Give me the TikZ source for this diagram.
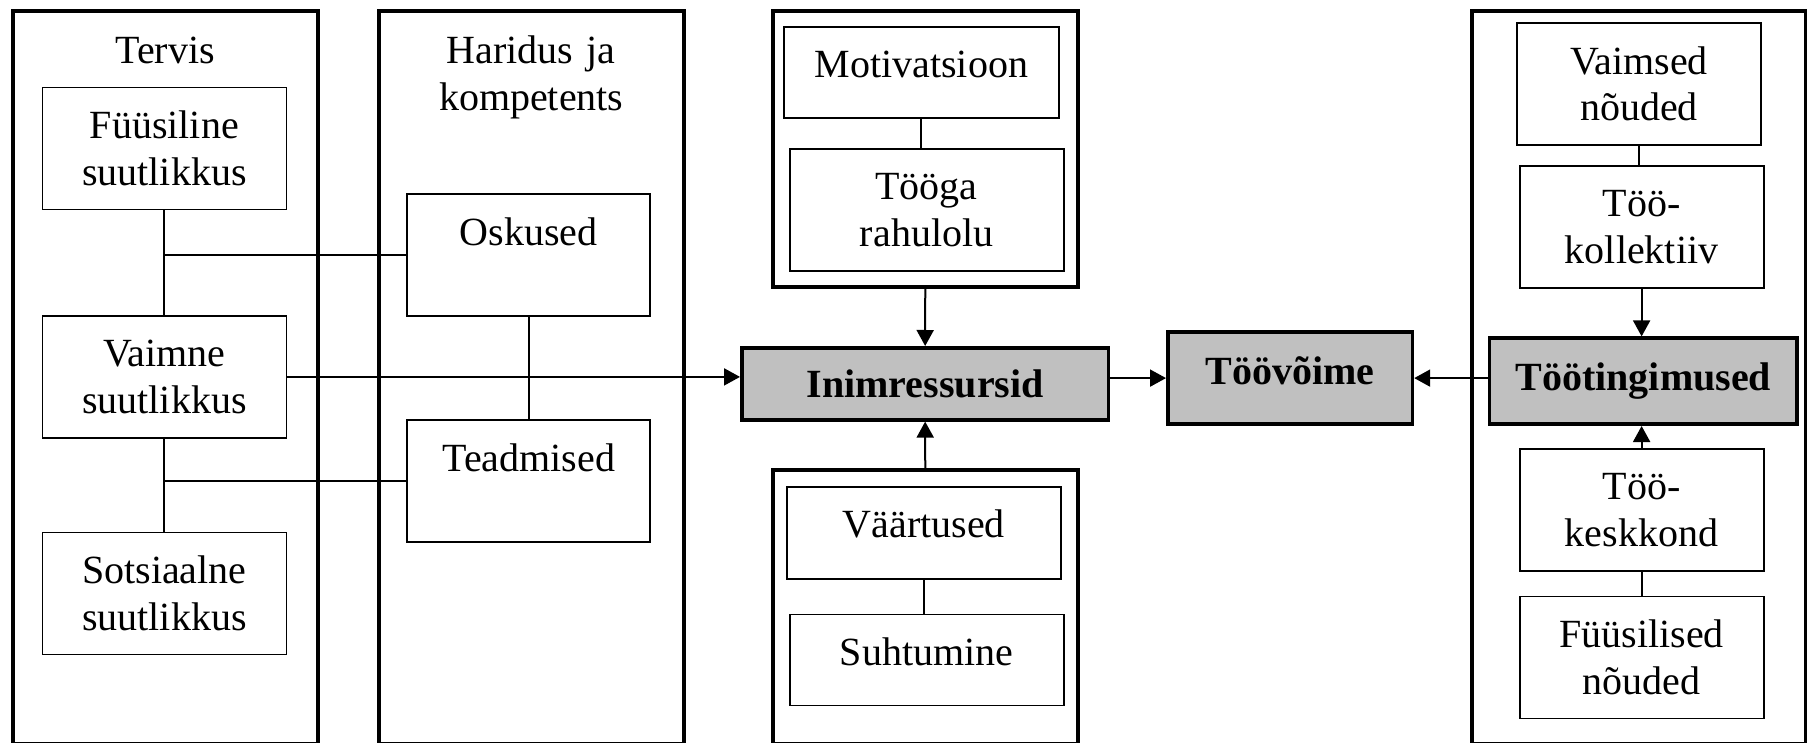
\documentclass[tikz,border=0pt]{standalone}
\usepackage{fontspec}
\setmainfont{Liberation Serif}
\usetikzlibrary{arrows.meta}
\definecolor{boxgray}{RGB}{192,192,192}
\begin{document}
\begin{tikzpicture}[x=0.5pt,y=-0.5pt,
  font=\fontsize{20}{23.4}\selectfont,
  frame/.style={draw, line width=1.75pt, anchor=north west, inner sep=0pt, align=center},
  cell/.style={draw, line width=0.9pt, anchor=north west, inner sep=0pt, align=center, text height=25.5pt},
  hub/.style={draw, line width=1.8pt, fill=boxgray, anchor=north west, inner sep=0pt, align=center, font=\fontsize{20}{23.4}\selectfont\bfseries, text height=26pt},
  link/.style={line width=1pt},
  arr/.style={line width=1pt, -{Triangle[length=8pt,width=8.5pt]}}]
            \useasboundingbox (0,0) rectangle (1807,743);

            \node[frame, text width=152.5pt, text height=26pt, text depth=340pt] (T) at (11,9.5) {Tervis};
            \node[frame, text width=152.5pt, text height=26pt, text depth=340pt] (H) at (377,9.5) {Haridus ja\\kompetents};
            \node[frame, minimum width=152.5pt, minimum height=137.75pt] (MG) at (771,9.5) {};
            \node[frame, minimum width=152.5pt, minimum height=136.75pt] (VG) at (771,468) {};
            \node[frame, minimum width=167pt, minimum height=366pt] (RG) at (1470,9.5) {};

            \node[cell, text width=122pt, text depth=35.5pt] (FS) at (41.5,86.7) {Füüsiline\\suutlikkus};
            \node[cell, text width=122pt, text depth=35.5pt] (VS) at (41.5,315) {Vaimne\\suutlikkus};
            \node[cell, text width=122pt, text depth=35.5pt] (SS) at (41.5,531.6) {Sotsiaalne\\suutlikkus};

            \node[cell, text width=121.5pt, text depth=35.5pt] (O) at (406.3,193.3) {Oskused};
            \node[cell, text width=121.5pt, text depth=35.5pt] (TE) at (406.3,419.4) {Teadmised};

            \node[cell, text width=137.2pt, text depth=20pt] (M) at (783.3,26) {Motivatsioon};
            \node[cell, text width=137pt, text depth=35.5pt] (TR) at (788.7,147.8) {Tööga\\rahulolu};
            \node[cell, text width=137pt, text depth=20.5pt] (V) at (786,486) {Väärtused};
            \node[cell, text width=137pt, text depth=20pt] (S) at (788.7,613.6) {Suhtumine};

            \node[cell, text width=122pt, text depth=35.5pt] (VN) at (1516,22.3) {Vaimsed\\nõuded};
            \node[cell, text width=122pt, text depth=35.5pt] (TK) at (1518.7,164.9) {Töö-\\kollektiiv};
            \node[cell, text width=122pt, text depth=35.5pt] (TKK) at (1518.7,447.8) {Töö-\\keskkond};
            \node[cell, text width=122pt, text depth=35.5pt] (FN) at (1518.7,595.6) {Füüsilised\\nõuded};

            \node[hub, text width=183.35pt, text height=25pt, text depth=11pt] (IR) at (740,346) {Inimressursid};
            \node[hub, text width=122.3pt, text depth=20pt] (TV) at (1166,330.3) {Töövõime};
            \node[hub, text width=153.8pt, text depth=17pt] (TT) at (1487.7,336.4) {Töötingimused};

            \draw[link] (FS) -- (VS) -- (SS);
            \draw[link] (O) -- (TE);
            \draw[link] (O.west) -- (O.west -| FS.south);
            \draw[link] (TE.west) -- (TE.west -| FS.south);
            \draw[link] (M.south) -- (M.south |- TR.north);
            \draw[link] (V.south) -- (V.south |- S.north);
            \draw[link] (VN.south) -- (VN.south |- TK.north);
            \draw[link] (TKK) -- (FN);

            \draw[arr] (VS.east) -- (VS.east -| IR.west);
            \draw[arr] (MG.south) -- (IR.north);
            \draw[arr] (VG.north) -- (IR.south);
            \draw[arr] (IR.east |- TV.west) -- (TV.west);
            \draw[arr] (TT.west |- TV.east) -- (TV.east);
            \draw[arr] (TK.south) -- (TK.south |- TT.north);
            \draw[arr] (TKK.north) -- (TKK.north |- TT.south);
          \end{tikzpicture}
\end{document}
